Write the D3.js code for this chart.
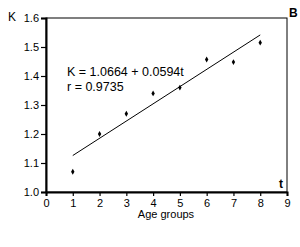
<!DOCTYPE html>
<html><head><meta charset="utf-8">
<script src="https://cdn.jsdelivr.net/npm/d3@7"></script>
<style>body{margin:0;background:#fff}svg{display:block}text{font-family:"Liberation Sans",Arial,sans-serif;fill:#000}</style>
</head><body>
<script>
const ageGroups = [1, 2, 3, 4, 5, 6, 7, 8];
const kValues = [1.07, 1.20, 1.27, 1.34, 1.36, 1.457, 1.448, 1.515];
const intercept = 1.0664, slope = 0.0594;
const xTicks = [0,1,2,3,4,5,6,7,8,9];
const yTicks = [1.0,1.1,1.2,1.3,1.4,1.5,1.6];

const W=300,H=247;
const svg=d3.select("body").append("svg").attr("width",W).attr("height",H);
const x=d3.scaleLinear().domain([0,9]).range([46,287]);
const y=d3.scaleLinear().domain([1.0,1.6]).range([192,18]);

// frame
svg.append("rect").attr("x",46).attr("y",18).attr("width",241).attr("height",174)
  .attr("fill","none").attr("stroke","#000").attr("stroke-width",1);
const ya=svg.append("g").attr("transform","translate(46,0)")
  .call(d3.axisLeft(y).tickValues(yTicks).tickFormat(d3.format(".1f")).tickSize(5).tickPadding(2));
const xa=svg.append("g").attr("transform","translate(0,192)")
  .call(d3.axisBottom(x).tickValues(xTicks).tickFormat(d3.format("d")).tickSize(4).tickPadding(3));
[ya,xa].forEach(a=>{a.select(".domain").attr("stroke-width",2);a.selectAll("line").attr("stroke-width",1.2);
  a.selectAll("text").style("font-size","11px").attr("fill","#000");});

// regression line
svg.append("line").attr("x1",x(1)).attr("y1",y(intercept+slope*1))
  .attr("x2",x(8)).attr("y2",y(intercept+slope*8)).attr("stroke","#000").attr("stroke-width",1);

// points
svg.selectAll(".pt").data(ageGroups).enter().append("path")
  .attr("transform",(d,i)=>`translate(${x(d)},${y(kValues[i])})`)
  .attr("d",d3.symbol(d3.symbolDiamond,10)).attr("fill","#000");

svg.append("text").attr("x",67).attr("y",76).style("font-size","12.5px").text("K = 1.0664 + 0.0594t");
svg.append("text").attr("x",67).attr("y",91).style("font-size","12.5px").text("r = 0.9735");
svg.append("text").attr("x",8).attr("y",21).style("font-size","12px").text("K");
svg.append("text").attr("x",279).attr("y",188).style("font-size","12px").style("font-weight","bold").text("t");
svg.append("text").attr("x",289).attr("y",17).style("font-size","12px").style("font-weight","bold").text("B");
svg.append("text").attr("x",166).attr("y",218).attr("text-anchor","middle").style("font-size","11px").text("Age groups");
</script>
</body></html>
